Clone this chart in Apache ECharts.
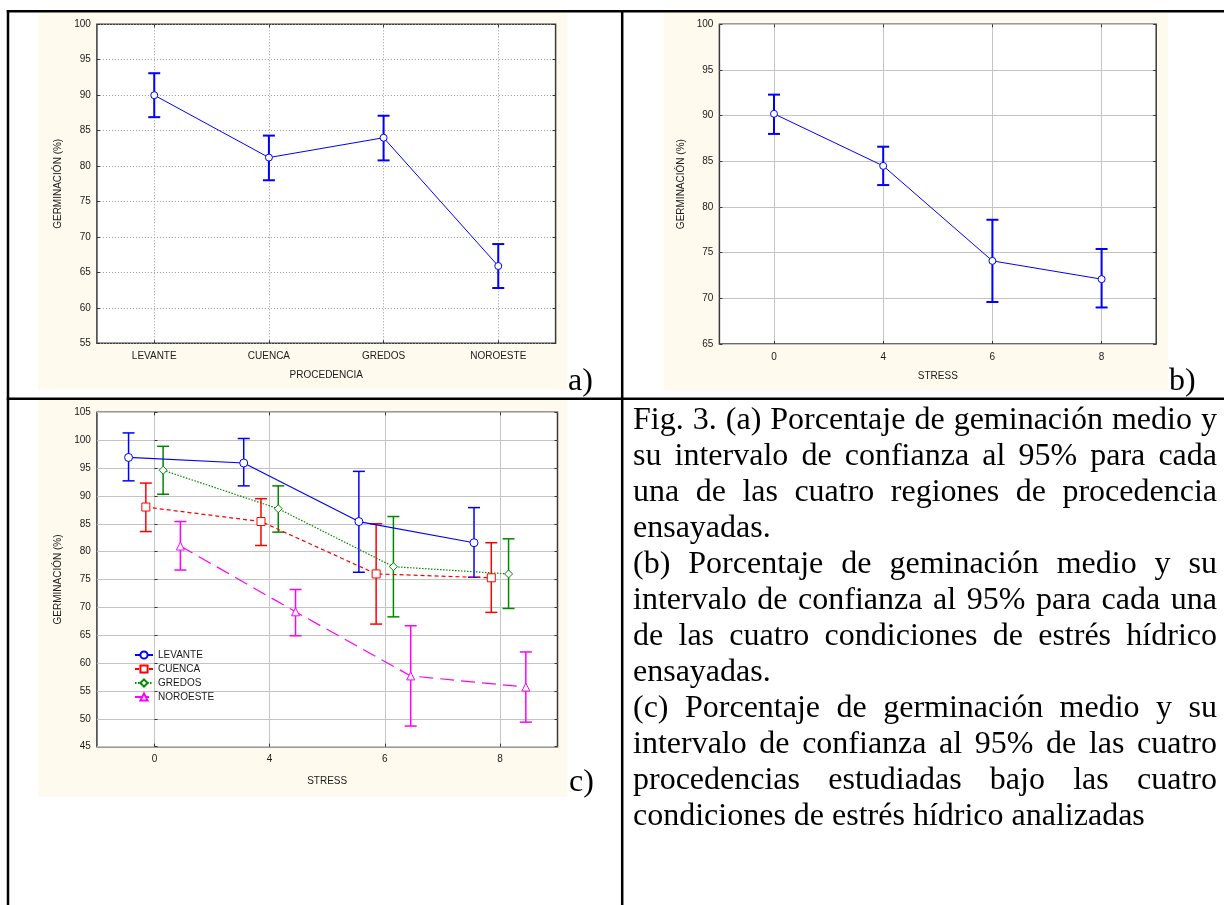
<!DOCTYPE html>
<html><head><meta charset="utf-8">
<script src="https://cdn.jsdelivr.net/npm/echarts@6/dist/echarts.min.js"></script>
<style>html,body{margin:0;padding:0;background:#fff}#c{width:1224px;height:905px}</style>
</head><body><div id="c"></div><script>
// ---------- DATA ----------
const procedencias = ['LEVANTE', 'CUENCA', 'GREDOS', 'NOROESTE'];
const germA    = [90.0, 81.2, 84.0, 65.9];
const germA_lo = [86.9, 78.0, 80.8, 62.8];
const germA_hi = [93.1, 84.3, 87.1, 69.0];

const stressLevels = ['0', '4', '6', '8'];
const germB    = [90.2, 84.5, 74.1, 72.1];
const germB_lo = [88.0, 82.4, 69.6, 69.0];
const germB_hi = [92.3, 86.6, 78.6, 75.4];

const levanteC    = [96.9, 95.9, 85.4, 81.6];
const levanteC_lo = [92.7, 91.8, 76.3, 75.4];
const levanteC_hi = [101.3, 100.3, 94.4, 87.9];
const cuencaC     = [88.0, 85.4, 76.0, 75.3];
const cuencaC_lo  = [83.6, 81.1, 67.0, 69.1];
const cuencaC_hi  = [92.3, 89.5, 85.0, 81.6];
const gredosC     = [94.6, 87.7, 77.3, 76.0];
const gredosC_lo  = [90.3, 83.5, 68.3, 69.8];
const gredosC_hi  = [98.9, 91.8, 86.3, 82.3];
const noroesteC    = [81.0, 69.2, 57.7, 55.7];
const noroesteC_lo = [76.7, 64.9, 48.7, 49.4];
const noroesteC_hi = [85.4, 73.2, 66.7, 62.0];

const yNameA = 'GERMINACIÓN (%)';
const xNameA = 'PROCEDENCIA';
const xNameB = 'STRESS';

const captionLines = [
  'Fig. 3. (a) Porcentaje de geminación medio y',
  'su intervalo de confianza al 95% para cada',
  'una de las cuatro regiones de procedencia',
  'ensayadas.',
  '(b) Porcentaje de geminación medio y su',
  'intervalo de confianza al 95% para cada una',
  'de las cuatro condiciones de estrés hídrico',
  'ensayadas.',
  '(c) Porcentaje de germinación medio y su',
  'intervalo de confianza al 95% de las cuatro',
  'procedencias estudiadas bajo las cuatro',
  'condiciones de estrés hídrico analizadas'
];
const panelLabels = ['a)', 'b)', 'c)'];

// ---------- STYLE / LAYOUT ----------
const SANS = 'Liberation Sans';
const SERIF_FONT = '32px "Liberation Serif"';
const BLUE = '#0000ff';
const CREAM = '#fffaee';
const TXT = '#1a1a1a';

const mctx = document.createElement('canvas').getContext('2d');
mctx.font = SERIF_FONT;
mctx.textBaseline = 'middle';
const midToBase = mctx.measureText('H').actualBoundingBoxDescent || 10;

function errBar(color, width, capW, xOff) {
  return function (params, api) {
    const x = api.value(0) + (xOff || 0);
    const lo = api.value(1), hi = api.value(2);
    const p1 = api.coord([x, hi]);
    const p2 = api.coord([x, lo]);
    const st = { stroke: color, lineWidth: width, fill: null };
    return {
      type: 'group',
      children: [
        { type: 'line', shape: { x1: p1[0], y1: p1[1], x2: p2[0], y2: p2[1] }, style: st },
        { type: 'line', shape: { x1: p1[0] - capW / 2, y1: p1[1], x2: p1[0] + capW / 2, y2: p1[1] }, style: st },
        { type: 'line', shape: { x1: p2[0] - capW / 2, y1: p2[1], x2: p2[0] + capW / 2, y2: p2[1] }, style: st }
      ]
    };
  };
}

function catAxes(grid, cats, name, gap, gridStyle) {
  return [{
    type: 'category', gridIndex: grid, data: cats, boundaryGap: true,
    name: name, nameLocation: 'middle', nameGap: gap,
    nameTextStyle: { fontFamily: SANS, fontSize: 10, color: TXT },
    axisLine: { show: false },
    axisTick: { show: true, inside: true, alignWithLabel: true, length: 3, lineStyle: { color: '#333' } },
    axisLabel: { fontFamily: SANS, fontSize: 10, color: TXT, margin: 8 },
    splitLine: { show: true, alignWithLabel: true, lineStyle: gridStyle }
  }, {
    type: 'category', gridIndex: grid, data: cats, boundaryGap: true, position: 'top',
    axisLine: { show: false }, axisLabel: { show: false },
    axisTick: { show: true, inside: true, alignWithLabel: true, length: 3, lineStyle: { color: '#333' } },
    splitLine: { show: false }
  }];
}
function valAxes(grid, min, max, name, gap, gridStyle) {
  return [{
    type: 'value', gridIndex: grid, min: min, max: max, interval: 5,
    name: name, nameLocation: 'middle', nameGap: gap, nameRotate: 90,
    nameTextStyle: { fontFamily: SANS, fontSize: 10, color: TXT },
    axisLine: { show: false },
    axisTick: { show: true, inside: true, length: 3, lineStyle: { color: '#333' } },
    axisLabel: { fontFamily: SANS, fontSize: 10, color: TXT, margin: 6 },
    splitLine: { show: true, lineStyle: gridStyle }
  }, {
    type: 'value', gridIndex: grid, min: min, max: max, interval: 5, position: 'right',
    axisLine: { show: false }, axisLabel: { show: false },
    axisTick: { show: true, inside: true, length: 3, lineStyle: { color: '#333' } },
    splitLine: { show: false }
  }];
}

const dottedGrid = { color: '#9a9a9a', type: [1, 2], width: 1 };
const solidGrid = { color: '#c4c4c4', type: 'solid', width: 1 };

const gridBase = { show: true, backgroundColor: '#ffffff', borderColor: '#3a3a3a', borderWidth: 1.5 };

const xAxes = [].concat(
  catAxes(0, procedencias, xNameA, 27, dottedGrid),
  catAxes(1, stressLevels, xNameB, 27, solidGrid),
  catAxes(2, stressLevels, xNameB, 30, solidGrid),
  [{ type: 'value', gridIndex: 2, min: -0.5, max: 3.5, show: false }]
);
const yAxes = [].concat(
  valAxes(0, 55, 100, yNameA, 34, dottedGrid),
  valAxes(1, 65, 100, yNameA, 33, solidGrid),
  valAxes(2, 45, 105, yNameA, 34, solidGrid)
);

const series = [];
// panel a
series.push({
  type: 'custom', name: 'IC a', xAxisIndex: 0, yAxisIndex: 0, z: 3,
  data: procedencias.map((c, i) => [i, germA_lo[i], germA_hi[i]]),
  encode: { x: 0, y: [1, 2] }, renderItem: errBar(BLUE, 2, 12)
});
series.push({
  type: 'line', name: 'Germinación a', xAxisIndex: 0, yAxisIndex: 0, z: 4,
  data: germA, symbol: 'circle', symbolSize: 7,
  itemStyle: { color: '#fff', borderColor: BLUE, borderWidth: 1 },
  lineStyle: { color: BLUE, width: 1 }
});
// panel b
series.push({
  type: 'custom', name: 'IC b', xAxisIndex: 2, yAxisIndex: 2, z: 3,
  data: stressLevels.map((c, i) => [i, germB_lo[i], germB_hi[i]]),
  encode: { x: 0, y: [1, 2] }, renderItem: errBar(BLUE, 2, 12)
});
series.push({
  type: 'line', name: 'Germinación b', xAxisIndex: 2, yAxisIndex: 2, z: 4,
  data: germB, symbol: 'circle', symbolSize: 7,
  itemStyle: { color: '#fff', borderColor: BLUE, borderWidth: 1 },
  lineStyle: { color: BLUE, width: 1 }
});
// panel c
const cGroups = [
  { name: 'LEVANTE', v: levanteC, lo: levanteC_lo, hi: levanteC_hi, color: '#0000ff', dash: 'solid', symbol: 'circle', size: 8, off: -0.225 },
  { name: 'CUENCA', v: cuencaC, lo: cuencaC_lo, hi: cuencaC_hi, color: '#ff0000', dash: [4, 3], symbol: 'rect', size: 8, off: -0.075 },
  { name: 'GREDOS', v: gredosC, lo: gredosC_lo, hi: gredosC_hi, color: '#008800', dash: [1.5, 1.5], symbol: 'diamond', size: 8, off: 0.075 },
  { name: 'NOROESTE', v: noroesteC, lo: noroesteC_lo, hi: noroesteC_hi, color: '#ff00ff', dash: [14, 7], symbol: 'triangle', size: 8, off: 0.225 }
];
cGroups.forEach(g => {
  series.push({
    type: 'custom', name: 'IC ' + g.name, xAxisIndex: 6, yAxisIndex: 4, z: 3,
    data: g.v.map((v, i) => [i, g.lo[i], g.hi[i]]),
    encode: { x: 0, y: [1, 2] }, renderItem: errBar(g.color, 1.5, 12, g.off)
  });
  series.push({
    type: 'line', name: g.name, xAxisIndex: 6, yAxisIndex: 4, z: 4,
    data: g.v.map((v, i) => [i + g.off, v]),
    symbol: g.symbol, symbolSize: g.size,
    itemStyle: { color: '#fff', borderColor: g.color, borderWidth: 1 },
    lineStyle: { color: g.color, width: 1.2, type: g.dash }
  });
});

// ---------- GRAPHICS (frame, backgrounds, captions) ----------
const graphics = [];
[[38.4, 13.3, 529, 376.2], [663.5, 13.3, 504.3, 376.7], [38.4, 400, 529, 397]].forEach(r => {
  graphics.push({ type: 'rect', silent: true, z: -10, shape: { x: r[0], y: r[1], width: r[2], height: r[3] }, style: { fill: CREAM } });
});
const frameLine = (x1, y1, x2, y2) => ({ type: 'line', silent: true, z: 50, shape: { x1, y1, x2, y2 }, style: { stroke: '#000', lineWidth: 2.5 } });
graphics.push(frameLine(8, 10, 8, 905), frameLine(6.8, 11.3, 1224, 11.3), frameLine(6.8, 398.8, 1224, 398.8), frameLine(622.2, 10, 622.2, 905));

function serifText(str, x, baseline) {
  return { type: 'text', silent: true, z: 60, x: x, y: baseline - midToBase,
    style: { text: str, font: SERIF_FONT, fill: '#000', align: 'left', verticalAlign: 'middle', textAlign: 'left', textVerticalAlign: 'middle' } };
}
[[568, 390], [1169, 390], [569, 791]].forEach((p, i) => graphics.push(serifText(panelLabels[i], p[0], p[1])));

const capLeft = 633, capRight = 1217, capBase0 = 429, capStep = 36;
captionLines.forEach((line, k) => {
  const base = capBase0 + k * capStep;
  const isLastOfPara = (k === captionLines.length - 1) || /^\(/.test(captionLines[k + 1]);
  if (isLastOfPara) {
    graphics.push(serifText(line, capLeft, base));
    return;
  }
  const words = line.split(' ');
  const widths = words.map(w => mctx.measureText(w).width);
  const total = widths.reduce((a, b) => a + b, 0);
  const gap = (capRight - capLeft - total) / (words.length - 1);
  let x = capLeft;
  words.forEach((w, j) => {
    graphics.push(serifText(w, x, base));
    x += widths[j] + gap;
  });
});

const chart = echarts.init(document.getElementById('c'), null, { renderer: 'canvas', width: 1224, height: 905 });
chart.setOption({
  backgroundColor: '#ffffff',
  animation: false,
  textStyle: { fontFamily: SANS },
  grid: [
    Object.assign({ left: 96.9, top: 24.3, width: 458.7, height: 319 }, gridBase),
    Object.assign({ left: 719.4, top: 24.3, width: 436.8, height: 319.7 }, gridBase),
    Object.assign({ left: 96.9, top: 412.3, width: 460.6, height: 334.4 }, gridBase)
  ],
  legend: {
    data: cGroups.map(g => g.name), orient: 'vertical', left: 129, top: 645,
    itemWidth: 18, itemHeight: 9, itemGap: 4, selectedMode: false,
    textStyle: { fontFamily: SANS, fontSize: 10, color: TXT }
  },
  xAxis: xAxes,
  yAxis: yAxes,
  series: series,
  graphic: { elements: graphics }
});
</script></body></html>
